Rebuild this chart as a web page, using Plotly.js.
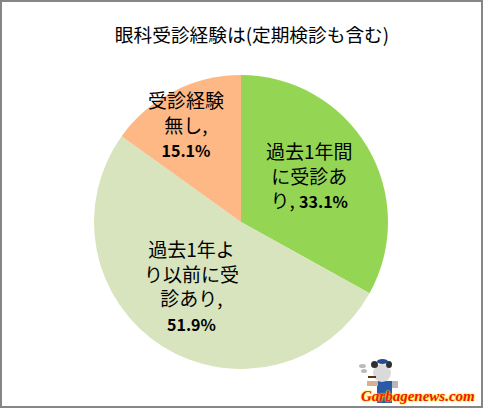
<!DOCTYPE html>
<html><head><meta charset="utf-8">
<script src="https://cdn.plot.ly/plotly-3.0.1.min.js"></script>
<style>html,body{margin:0;padding:0;background:#fff}#c{width:483px;height:409px}</style>
</head><body><div id="c"></div>
<script>
const chartTitle = "眼科受診経験は(定期検診も含む)";
const categories = ["過去1年間に受診あり", "過去1年より以前に受診あり", "受診経験無し"];
const values = [33.1, 51.9, 15.1];
const colors = ["#94D654", "#D7E4BD", "#FDB886"];
const labelLines = [["過去1年間", "に受診あ", "り, "], ["過去1年よ", "り以前に受", "診あり,", ""], ["受診経験", "無し,", ""]];
const labelPos = [[309, 175], [191, 285], [186, 124]];
const site = "Garbagenews.com";

const W = 483, H = 409;
const font = '"Noto Sans CJK JP","Noto Sans",sans-serif';
const px = x => x / W, py = y => 1 - y / H;

const annotations = categories.map((c, i) => ({
  xref: 'paper', yref: 'paper', x: px(labelPos[i][0]), y: py(labelPos[i][1]),
  xanchor: 'center', yanchor: 'middle', showarrow: false, align: 'center',
  font: {family: font, size: 19, color: '#000'},
  text: labelLines[i].slice(0, -1).join('<br>') + '<br>' + labelLines[i].slice(-1)[0] +
        '<span style="font-size:16px"><b>' + values[i].toFixed(1) + '%</b></span>'
}));

const box = (x0, y0, x1, y1, fill, type) => ({type: type || 'rect', xref: 'paper', yref: 'paper',
  x0: px(x0), x1: px(x1), y0: py(y1), y1: py(y0), fillcolor: fill, line: {width: 0}, layer: 'above'});
const shapes = [
  {type: 'rect', xref: 'paper', yref: 'paper', x0: px(1), x1: px(482), y0: py(407), y1: py(1), line: {color: '#868686', width: 2}, fillcolor: 'rgba(0,0,0,0)'},
  // small mascot beside the site name
  box(377, 381, 392, 403, '#2A5AA8'),
  box(392, 381, 398, 388, '#B8B8B8'),
  box(367, 381, 378, 386, '#D8B090'),
  box(373, 364, 391, 382, '#DADADA', 'circle'),
  box(371, 361, 378, 368, '#303030', 'circle'),
  box(386, 361, 392, 368, '#303030', 'circle'),
  box(377, 359, 388, 364, '#2A4A90', 'circle'),
  box(368, 376, 376, 378, '#603010'),
  box(359, 364, 366, 368, '#BBBBBB', 'circle'),
  box(361, 369, 367, 373, '#BBBBBB', 'circle')
];

annotations.push({
  xref: 'paper', yref: 'paper', x: px(477), y: py(396), xanchor: 'right', yanchor: 'middle', showarrow: false,
  text: '<b><i>' + site + '</i></b>',
  font: {family: '"Liberation Serif",serif', size: 15, color: '#F01818', shadow: '0 0 2px #FFE000, 0 0 2px #FFE000, 0 0 1px #FFE000'}
});

Plotly.newPlot('c', [{
  type: 'pie', labels: categories, values: values, sort: false, direction: 'clockwise', rotation: 0,
  marker: {colors: colors, line: {width: 0}}, textinfo: 'none', hoverinfo: 'label+percent',
  domain: {x: [px(94), px(388)], y: [py(369), py(75)]}
}], {
  width: W, height: H, margin: {l: 0, r: 0, t: 0, b: 0}, showlegend: false,
  paper_bgcolor: '#fff',
  title: {text: chartTitle, x: px(252), xanchor: 'center', y: py(35), yanchor: 'middle', font: {family: font, size: 18.7, color: '#000'}},
  annotations: annotations, shapes: shapes
}, {displayModeBar: false});
</script></body></html>
